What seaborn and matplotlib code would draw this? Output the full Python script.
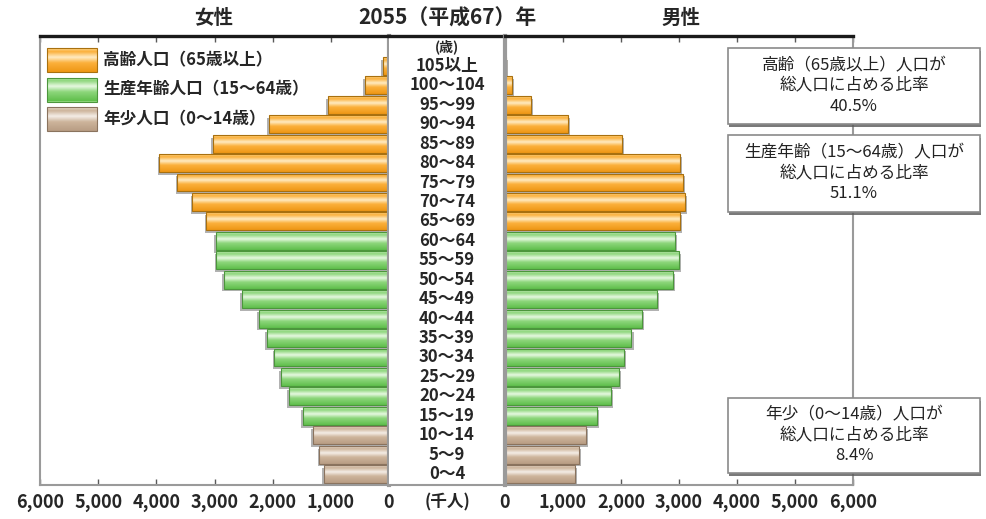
import numpy as np
import pandas as pd
import matplotlib
matplotlib.use("Agg")
import matplotlib.pyplot as plt
import matplotlib.patheffects as pe
from matplotlib.colors import LinearSegmentedColormap, to_hex
from matplotlib.patches import Rectangle
import seaborn as sns

# 年齢階級（若い順）
age_labels = ["0～4", "5～9", "10～14", "15～19", "20～24", "25～29", "30～34",
              "35～39", "40～44", "45～49", "50～54", "55～59", "60～64", "65～69",
              "70～74", "75～79", "80～84", "85～89", "90～94", "95～99",
              "100～104", "105以上"]

# 人口（千人）
female = [1120, 1200, 1310, 1480, 1720, 1860, 1970, 2100, 2240, 2530, 2840,
          2970, 2980, 3140, 3380, 3640, 3950, 3030, 2070, 1050, 410, 110]
male = [1210, 1280, 1400, 1580, 1820, 1960, 2050, 2180, 2360, 2620, 2890,
        3000, 2930, 3010, 3100, 3070, 3010, 2010, 1090, 450, 120, 20]

groups = ["高齢人口（65歳以上）", "生産年齢人口（15～64歳）", "年少人口（0～14歳）"]
group_index = [2] * 3 + [1] * 10 + [0] * 9

share_texts = [
    "高齢（65歳以上）人口が\n総人口に占める比率\n40.5%",
    "生産年齢（15～64歳）人口が\n総人口に占める比率\n51.1%",
    "年少（0～14歳）人口が\n総人口に占める比率\n8.4%",
]

x_ticks = [0, 1000, 2000, 3000, 4000, 5000, 6000]

title_left = "女性"
title_mid = "2055（平成67）年"
title_right = "男性"
unit_label = "(千人)"
age_unit = "(歳)"

styles = {
    groups[0]: dict(base="#FBB03B", light="#FFD890", hi="#FFEBC2", dark="#EE9715", edge="#A8700F"),
    groups[1]: dict(base="#8DD67B", light="#C8EDBE", hi="#E6F8E0", dark="#60BF4C", edge="#4C963C"),
    groups[2]: dict(base="#CDB49B", light="#E6D8CA", hi="#F4EDE6", dark="#B89D84", edge="#8A735E"),
}
palette = {g: styles[g]["base"] for g in groups}

sns.set_theme(style="white")
plt.rcParams["font.family"] = ["Noto Sans CJK JP", "DejaVu Sans"]

W, H = 986, 519
fig = plt.figure(figsize=(W / 100, H / 100), dpi=100)


def frac(x0, y0, x1, y1):
    return [x0 / W, 1 - y1 / H, (x1 - x0) / W, (y1 - y0) / H]


axL = fig.add_axes(frac(40, 36, 389, 485))
axM = fig.add_axes(frac(389, 36, 505, 485))
axR = fig.add_axes(frac(505, 36, 853, 485))

df = pd.DataFrame({
    "age": age_labels,
    "女性": female,
    "男性": male,
    "区分": [groups[i] for i in group_index],
})
order = age_labels[::-1]
n = len(order)
ylim = (n - 0.44, -1.54)


def make_cmap(st):
    return LinearSegmentedColormap.from_list(
        "", [(0, st["light"]), (0.14, st["base"]), (0.38, st["hi"]),
             (0.62, st["base"]), (1, st["dark"])])


grad = np.linspace(0, 1, 64).reshape(-1, 1)
color_to_group = {to_hex(styles[g]["base"]): g for g in groups}

for ax, col, dx in ((axL, "女性", -1.2), (axR, "男性", 1.5)):
    sns.barplot(data=df, x=col, y="age", hue="区分", order=order,
                hue_order=groups, palette=palette, dodge=False, orient="h",
                width=0.92, errorbar=None, legend=False, saturation=1, ax=ax)
    for patch in list(ax.patches):
        w = patch.get_width()
        if not np.isfinite(w) or w == 0:
            continue
        g = color_to_group[to_hex(patch.get_facecolor())]
        st = styles[g]
        patch.set_edgecolor("none")
        patch.set_zorder(2)
        patch.set_path_effects([
            pe.SimplePatchShadow(offset=(dx, -2.0), shadow_rgbFace="0.45", alpha=0.55),
            pe.Normal()])
        x0, y0, h = patch.get_x(), patch.get_y(), patch.get_height()
        im = ax.imshow(grad, cmap=make_cmap(st), extent=[x0, x0 + w, y0 + h, y0],
                       origin="upper", aspect="auto", interpolation="bilinear", zorder=2.1)
        im.set_clip_path(patch)
        ax.add_patch(Rectangle((x0, y0), w, h, fill=False, edgecolor=st["edge"],
                               lw=0.8, zorder=2.2))
    ax.set_ylim(*ylim)
    ax.set_yticks([])
    ax.set_xlabel("")
    ax.set_ylabel("")
    ax.set_xticks(x_ticks)
    ax.set_xticklabels([f"{v:,}" for v in x_ticks], fontweight="bold", fontsize=13)
    ax.tick_params(axis="x", which="both", direction="in", top=True, bottom=True,
                   labeltop=False, length=4, width=1, color="0.35", pad=6)
    for s in ax.spines.values():
        s.set_color("#9a9a9a")
        s.set_linewidth(1.5)
    ax.spines["top"].set_color("#1a1a1a")
    ax.spines["top"].set_linewidth(2.4)

axL.set_xlim(6000, 0)
axR.set_xlim(0, 6000)
axL.spines["right"].set_linewidth(3)
axR.spines["left"].set_linewidth(3)

# 中央の年齢ラベル列
axM.set_xlim(0, 1)
axM.set_ylim(*ylim)
axM.set_yticks([])
axM.set_xticks([0.5])
axM.set_xticklabels([unit_label], fontweight="bold", fontsize=12)
axM.tick_params(axis="x", length=0, pad=6)
axM.tick_params(axis="y", length=0)
for s in ("left", "right"):
    axM.spines[s].set_visible(False)
axM.spines["top"].set_color("#1a1a1a")
axM.spines["top"].set_linewidth(2.4)
axM.spines["bottom"].set_color("#9a9a9a")
axM.spines["bottom"].set_linewidth(1.5)
axM.text(0.5, -1, age_unit, ha="center", va="center", fontsize=10, fontweight="bold")
for i, lab in enumerate(order):
    axM.text(0.5, i, lab, ha="center", va="center", fontsize=12, fontweight="bold")

# タイトル
fig.text(214 / W, 1 - 18 / H, title_left, ha="center", va="center", fontsize=14, fontweight="bold")
fig.text(447 / W, 1 - 18 / H, title_mid, ha="center", va="center", fontsize=15, fontweight="bold")
fig.text(681 / W, 1 - 18 / H, title_right, ha="center", va="center", fontsize=14, fontweight="bold")

# 凡例と比率ボックス（ピクセル座標のオーバーレイ）
ov = fig.add_axes([0, 0, 1, 1])
ov.set_xlim(0, W)
ov.set_ylim(H, 0)
ov.axis("off")
ov.patch.set_alpha(0)

for k, g in enumerate(groups):
    cy = 60 + k * 29.5
    st = styles[g]
    r = Rectangle((47, cy - 12), 50, 24, facecolor=st["base"], edgecolor="none", zorder=3)
    ov.add_patch(r)
    im = ov.imshow(grad, cmap=make_cmap(st), extent=[47, 97, cy + 12, cy - 12],
                   origin="upper", aspect="auto", interpolation="bilinear", zorder=3.1)
    im.set_clip_path(r)
    ov.add_patch(Rectangle((47, cy - 12), 50, 24, fill=False, edgecolor=st["edge"], lw=0.8, zorder=3.2))
    ov.text(103, cy, g, ha="left", va="center", fontsize=12, fontweight="bold")

boxes = [(48, 124), (135, 212), (398, 473)]
for (top, bottom), txt in zip(boxes, share_texts):
    b = Rectangle((728, top), 252, bottom - top, facecolor="white", edgecolor="#8a8a8a",
                  lw=1.2, zorder=4)
    b.set_path_effects([pe.SimplePatchShadow(offset=(0.8, -1.8), shadow_rgbFace="0.35", alpha=0.8),
                        pe.Normal()])
    ov.add_patch(b)
    ov.text(854, (top + bottom) / 2, txt, ha="center", va="center", fontsize=12,
            linespacing=1.25, color="#222222", zorder=5)

ov.set_xlim(0, W)
ov.set_ylim(H, 0)

fig.savefig("out.png", dpi=100)
